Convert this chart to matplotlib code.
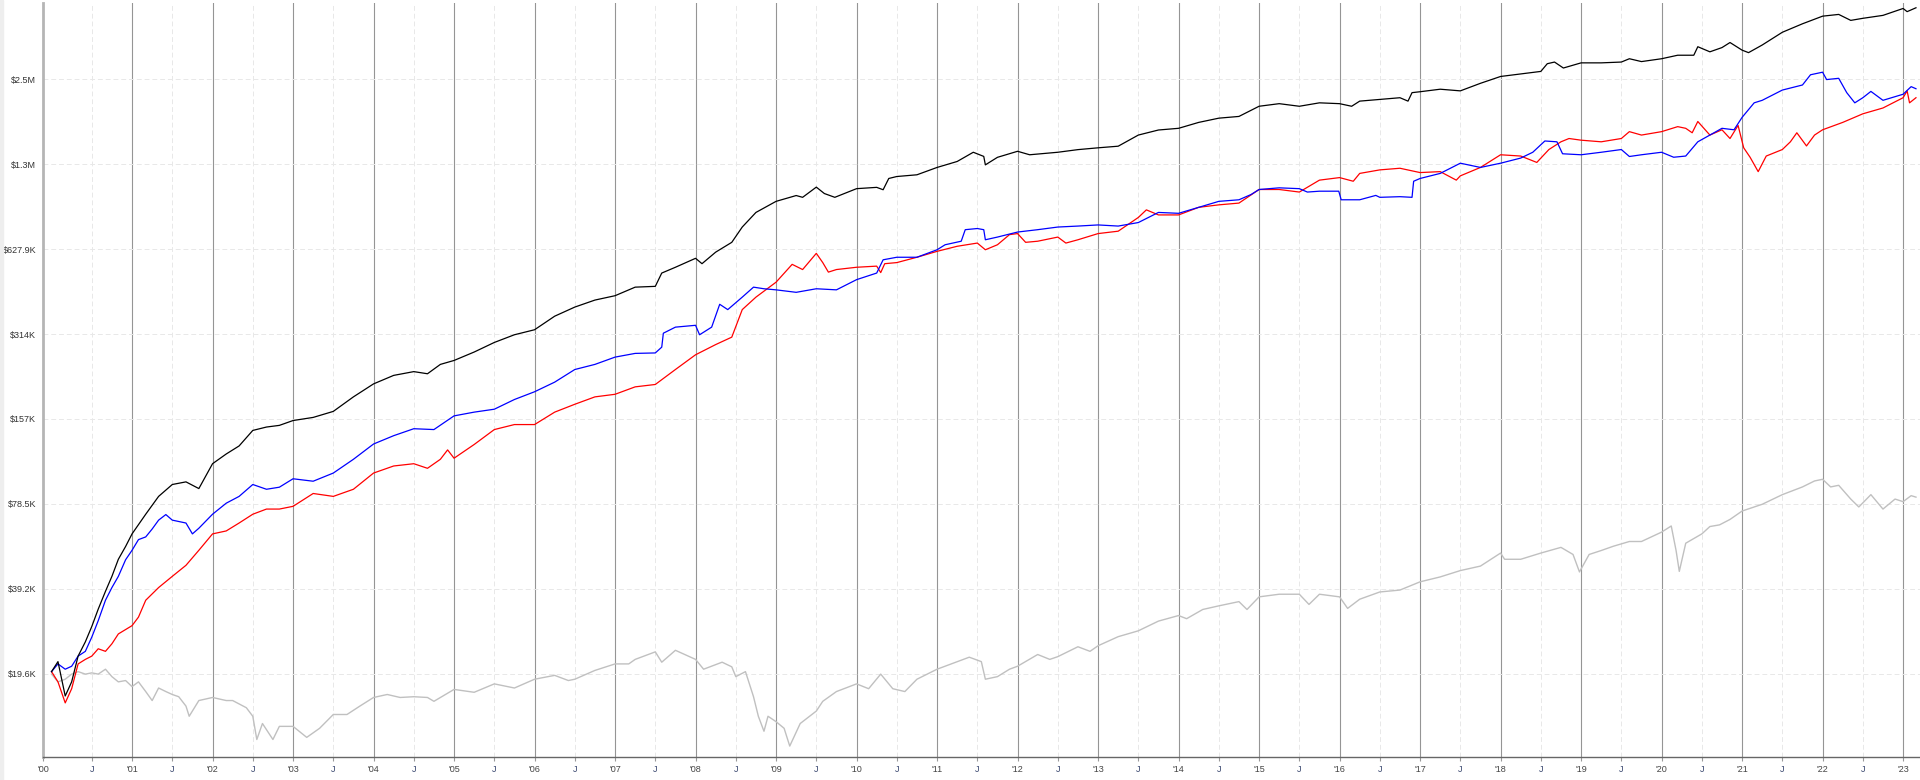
import matplotlib
matplotlib.use("Agg")
import matplotlib.pyplot as plt
from matplotlib.patches import Rectangle

# --- data (values in $K, dates as decimal years) ---
black_t = [2000.0, 2000.08, 2000.17, 2000.25, 2000.33, 2000.42, 2000.5, 2000.58, 2000.67, 2000.75,
           2000.83, 2000.92, 2001.0, 2001.17, 2001.33, 2001.5, 2001.67, 2001.83, 2002.0, 2002.17,
           2002.33, 2002.5, 2002.67, 2002.83, 2003.0, 2003.25, 2003.5, 2003.75, 2004.0, 2004.25,
           2004.5, 2004.67, 2004.83, 2005.0, 2005.25, 2005.5, 2005.75, 2006.0, 2006.25, 2006.5,
           2006.75, 2007.0, 2007.25, 2007.5, 2007.58, 2007.75, 2008.0, 2008.08, 2008.25, 2008.45,
           2008.58, 2008.75, 2009.0, 2009.25, 2009.33, 2009.5, 2009.6, 2009.73, 2010.0, 2010.25,
           2010.33, 2010.4, 2010.5, 2010.75, 2011.0, 2011.25, 2011.45, 2011.58, 2011.6, 2011.75,
           2012.0, 2012.15, 2012.5, 2012.75, 2013.0, 2013.25, 2013.5, 2013.75, 2014.0, 2014.25,
           2014.5, 2014.75, 2015.0, 2015.25, 2015.5, 2015.75, 2016.0, 2016.15, 2016.25, 2016.5,
           2016.75, 2016.85, 2016.9, 2017.0, 2017.25, 2017.5, 2017.75, 2018.0, 2018.25, 2018.5,
           2018.58, 2018.67, 2018.78, 2019.0, 2019.25, 2019.5, 2019.6, 2019.75, 2020.0, 2020.2,
           2020.4, 2020.45, 2020.6, 2020.75, 2020.85, 2021.0, 2021.08, 2021.25, 2021.5, 2021.75,
           2022.0, 2022.2, 2022.35, 2022.5, 2022.75, 2023.0, 2023.05, 2023.16]
black_k = [20.0, 21.7, 16.4, 18.4, 22.7, 25.5, 28.9, 33.3, 38.5, 43.5,
           50.0, 55.5, 61.5, 72.2, 83.5, 92, 94, 89, 109, 118,
           126, 143, 147, 149, 155, 159, 167, 188, 209, 224,
           231, 227, 245, 253, 271, 293, 312, 325, 363, 391,
           414, 429, 460, 463, 516, 541, 582, 557, 612, 663,
           751, 846, 926, 971, 957, 1040, 987, 957, 1027, 1038,
           1018, 1116, 1134, 1150, 1221, 1282, 1382, 1336, 1247, 1326,
           1393, 1354, 1382, 1412, 1433, 1452, 1590, 1657, 1680, 1763,
           1825, 1851, 2011, 2054, 2011, 2068, 2054, 2011, 2097, 2127,
           2156, 2097, 2247, 2264, 2311, 2280, 2425, 2564, 2617, 2672,
           2845, 2884, 2747, 2865, 2865, 2884, 2963, 2895, 2963, 3049,
           3049, 3268, 3135, 3245, 3382, 3178, 3114, 3314, 3677, 3940,
           4193, 4253, 4051, 4120, 4220, 4464, 4350, 4490]

blue_t = [2000.0, 2000.08, 2000.17, 2000.25, 2000.33, 2000.42, 2000.5, 2000.58, 2000.67, 2000.75,
          2000.83, 2000.92, 2001.0, 2001.08, 2001.17, 2001.25, 2001.33, 2001.42, 2001.5, 2001.67,
          2001.75, 2001.83, 2002.0, 2002.17, 2002.33, 2002.5, 2002.67, 2002.83, 2003.0, 2003.25,
          2003.5, 2003.75, 2004.0, 2004.25, 2004.5, 2004.75, 2005.0, 2005.25, 2005.5, 2005.75,
          2006.0, 2006.25, 2006.5, 2006.75, 2007.0, 2007.25, 2007.5, 2007.58, 2007.6, 2007.75,
          2008.0, 2008.05, 2008.2, 2008.3, 2008.4, 2008.58, 2008.72, 2008.85, 2009.0, 2009.25,
          2009.5, 2009.75, 2010.0, 2010.25, 2010.33, 2010.5, 2010.75, 2011.0, 2011.1, 2011.3,
          2011.35, 2011.5, 2011.58, 2011.6, 2011.75, 2012.0, 2012.25, 2012.5, 2012.75, 2013.0,
          2013.25, 2013.5, 2013.75, 2014.0, 2014.25, 2014.5, 2014.75, 2014.9, 2015.0, 2015.25,
          2015.5, 2015.6, 2015.75, 2015.99, 2016.02, 2016.25, 2016.45, 2016.5, 2016.75, 2016.9,
          2016.92, 2017.0, 2017.25, 2017.5, 2017.75, 2018.0, 2018.25, 2018.4, 2018.55, 2018.7,
          2018.77, 2019.0, 2019.25, 2019.5, 2019.6, 2019.75, 2020.0, 2020.15, 2020.3, 2020.45,
          2020.6, 2020.75, 2020.9, 2021.0, 2021.15, 2021.25, 2021.5, 2021.75, 2021.85, 2022.0,
          2022.05, 2022.2, 2022.3, 2022.4, 2022.5, 2022.6, 2022.75, 2023.0, 2023.1, 2023.16]
blue_k = [20.0, 21.3, 20.4, 20.9, 22.7, 23.6, 26.5, 30.3, 35.8, 39.7,
          43.5, 49.8, 53.8, 58.7, 60.0, 64, 68.8, 72.0, 68.8, 67.2,
          61.5, 64.4, 72.2, 79, 83.5, 92, 88.5, 90, 96.4, 94.5,
          101, 113, 128, 137, 145, 144, 161, 166, 170, 184,
          196, 212, 235, 245, 260, 268, 269, 282, 316, 332,
          337, 312, 332, 400, 383, 424, 460, 454, 450, 441,
          454, 450, 489, 516, 575, 587, 587, 624, 650, 669,
          735, 742, 735, 677, 692, 721, 735, 751, 757, 764,
          757, 779, 846, 840, 882, 926, 938, 979, 1020, 1034,
          1027, 999, 1006, 1006, 938, 938, 972, 957, 962, 957,
          1091, 1116, 1163, 1264, 1221, 1264, 1318, 1382, 1515, 1505,
          1365, 1354, 1382, 1413, 1335, 1354, 1382, 1327, 1340, 1505,
          1590, 1680, 1660, 1837, 2068, 2111, 2295, 2392, 2600, 2655,
          2500, 2526, 2247, 2068, 2156, 2270, 2111, 2218, 2360, 2320]

red_t = [2000.0, 2000.08, 2000.17, 2000.25, 2000.33, 2000.42, 2000.5, 2000.58, 2000.67, 2000.75,
         2000.83, 2000.92, 2001.0, 2001.08, 2001.17, 2001.33, 2001.5, 2001.67, 2001.83, 2002.0,
         2002.17, 2002.33, 2002.5, 2002.67, 2002.83, 2003.0, 2003.25, 2003.5, 2003.75, 2004.0,
         2004.25, 2004.5, 2004.67, 2004.83, 2004.92, 2005.0, 2005.25, 2005.5, 2005.75, 2006.0,
         2006.25, 2006.5, 2006.75, 2007.0, 2007.25, 2007.5, 2007.75, 2008.0, 2008.25, 2008.45,
         2008.58, 2008.75, 2009.0, 2009.2, 2009.33, 2009.5, 2009.58, 2009.65, 2009.75, 2010.0,
         2010.25, 2010.3, 2010.35, 2010.5, 2010.75, 2011.0, 2011.25, 2011.5, 2011.6, 2011.75,
         2011.9, 2012.0, 2012.1, 2012.25, 2012.5, 2012.6, 2012.75, 2013.0, 2013.25, 2013.5,
         2013.6, 2013.75, 2014.0, 2014.25, 2014.5, 2014.75, 2015.0, 2015.25, 2015.5, 2015.75,
         2016.0, 2016.17, 2016.25, 2016.5, 2016.75, 2017.0, 2017.25, 2017.45, 2017.5, 2017.75,
         2018.0, 2018.25, 2018.45, 2018.6, 2018.75, 2018.85, 2019.0, 2019.25, 2019.5, 2019.6,
         2019.75, 2020.0, 2020.2, 2020.3, 2020.38, 2020.45, 2020.6, 2020.75, 2020.85, 2020.95,
         2021.02, 2021.1, 2021.2, 2021.3, 2021.5, 2021.6, 2021.68, 2021.8, 2021.9, 2022.0,
         2022.25, 2022.5, 2022.75, 2023.0, 2023.05, 2023.08, 2023.16]
red_k = [20.0, 18.4, 15.5, 17.4, 21.3, 22.1, 22.7, 24.1, 23.6, 25.1,
         27.2, 28.2, 29.1, 31.2, 35.8, 39.7, 43.5, 47.6, 53.8, 61.5,
         63, 67.2, 72.2, 75.3, 75.3, 77, 85.5, 83.5, 88.5, 101,
         107, 109, 105, 113, 122, 114, 127.5, 144, 150, 150,
         166, 177, 188, 192, 204, 208, 235, 265, 288, 306,
         383, 424, 479, 554, 531, 606, 562, 520, 531, 541,
         546, 518, 557, 562, 587, 616, 642, 659, 624, 650,
         706, 712, 663, 669, 692, 659, 677, 712, 726, 812,
         864, 829, 829, 882, 900, 913, 1020, 1020, 999, 1101,
         1124, 1091, 1163, 1197, 1213, 1171, 1180, 1101, 1140, 1221,
         1354, 1340, 1272, 1413, 1505, 1546, 1525, 1505, 1546, 1635,
         1590, 1635, 1703, 1680, 1620, 1776, 1590, 1660, 1546, 1720,
         1433, 1326, 1180, 1340, 1413, 1505, 1620, 1455, 1590, 1660,
         1763, 1891, 1983, 2156, 2280, 2068, 2156]

gray_t = [2000.0, 2000.08, 2000.17, 2000.25, 2000.33, 2000.42, 2000.5, 2000.58, 2000.67, 2000.75,
          2000.83, 2000.92, 2001.0, 2001.08, 2001.17, 2001.25, 2001.33, 2001.42, 2001.5, 2001.58,
          2001.67, 2001.71, 2001.83, 2002.0, 2002.17, 2002.25, 2002.42, 2002.5, 2002.55, 2002.62,
          2002.75, 2002.83, 2003.0, 2003.17, 2003.33, 2003.5, 2003.67, 2003.83, 2004.0, 2004.17,
          2004.33, 2004.5, 2004.67, 2004.75, 2005.0, 2005.25, 2005.5, 2005.75, 2006.0, 2006.25,
          2006.42, 2006.5, 2006.75, 2007.0, 2007.17, 2007.25, 2007.5, 2007.58, 2007.75, 2008.0,
          2008.1, 2008.33, 2008.45, 2008.5, 2008.62, 2008.72, 2008.78, 2008.85, 2008.9, 2009.0,
          2009.1, 2009.17, 2009.3, 2009.5, 2009.58, 2009.75, 2010.0, 2010.15, 2010.3, 2010.45,
          2010.6, 2010.75, 2011.0, 2011.25, 2011.4, 2011.55, 2011.6, 2011.75, 2011.9, 2012.0,
          2012.25, 2012.4, 2012.5, 2012.75, 2012.9, 2013.0, 2013.25, 2013.5, 2013.75, 2014.0,
          2014.1, 2014.3, 2014.5, 2014.75, 2014.85, 2015.0, 2015.25, 2015.5, 2015.62, 2015.75,
          2016.0, 2016.1, 2016.25, 2016.5, 2016.75, 2017.0, 2017.25, 2017.5, 2017.75, 2018.0,
          2018.05, 2018.25, 2018.5, 2018.75, 2018.9, 2018.98, 2019.1, 2019.25, 2019.4, 2019.6,
          2019.75, 2020.0, 2020.12, 2020.18, 2020.22, 2020.3, 2020.5, 2020.6, 2020.72, 2020.85,
          2021.0, 2021.25, 2021.5, 2021.75, 2021.9, 2022.0, 2022.1, 2022.2, 2022.35, 2022.45,
          2022.6, 2022.75, 2022.9, 2023.0, 2023.1, 2023.16]
gray_k = [19.6, 18.4, 18.8, 19.6, 20.0, 19.6, 19.8, 19.6, 20.4, 19.2,
          18.4, 18.6, 17.7, 18.4, 17.0, 15.8, 17.5, 17.0, 16.6, 16.3,
          15.1, 13.9, 15.8, 16.2, 15.8, 15.8, 14.9, 13.9, 11.5, 13.1,
          11.5, 12.8, 12.8, 11.7, 12.6, 14.1, 14.1, 15.1, 16.2, 16.6,
          16.2, 16.3, 16.2, 15.7, 17.3, 16.9, 18.1, 17.5, 18.8, 19.4,
          18.6, 18.8, 20.2, 21.3, 21.3, 22.1, 23.5, 21.6, 23.8, 22.1,
          20.4, 21.6, 20.8, 19.2, 20.0, 16.3, 13.9, 12.3, 13.9, 13.3,
          12.6, 10.9, 13.1, 14.5, 15.7, 17.0, 18.1, 17.4, 19.6, 17.4,
          17.0, 18.8, 20.4, 21.7, 22.5, 21.7, 18.8, 19.2, 20.4, 20.9,
          23.0, 22.1, 22.6, 24.5, 23.6, 24.7, 26.6, 27.9, 30.2, 31.6,
          30.8, 33.2, 34.2, 35.4, 33.2, 36.8, 37.6, 37.6, 34.6, 37.6,
          36.8, 33.5, 36.1, 38.3, 38.9, 41.6, 43.3, 45.6, 47.3, 52.6,
          50.0, 50.0, 52.6, 55.1, 52.0, 45.1, 52.0, 53.7, 55.6, 57.8,
          57.8, 62.4, 65.6, 53.7, 45.3, 57.0, 61.5, 65.3, 66.2, 69.2,
          74.1, 78.3, 84.7, 90.2, 94.7, 96.0, 90.2, 91.4, 81.7, 76.6,
          84.7, 75.3, 81.7, 80.0, 84.0, 83.0]

y_ticks = [19620 * 2 ** k for k in range(8)]
y_labels = ["$19.6K", "$39.2K", "$78.5K", "$157K", "$314K", "$627.9K", "$1.3M", "$2.5M"]
years = list(range(2001, 2024))
x_start, x_end = 1999.894, 2023.21

plt.rcParams["font.family"] = ["Liberation Sans", "DejaVu Sans"]

fig = plt.figure(figsize=(19.2, 7.8), dpi=100)
fig.patches.append(Rectangle((0, 0), 3 / 1920, 1, transform=fig.transFigure,
                             color="#eeeeee", zorder=0))
ax = fig.add_axes([43 / 1920, 23 / 780, (1920 - 43) / 1920, (757 - 3) / 780])

# grid: solid year lines, dashed July lines, dashed price levels
for y in years:
    ax.axvline(y, color="#959595", lw=0.8, zorder=1)
for y in range(2000, 2023):
    ax.axvline(y + 0.5, color="#e8e8e8", lw=0.7, ls=(0, (5, 3)), zorder=1)
for v in y_ticks:
    ax.axhline(v, color="#e8e8e8", lw=0.7, ls=(0, (5, 3)), zorder=1)

to_usd = lambda ks: [k * 1000 for k in ks]
ax.plot(gray_t, to_usd(gray_k), color="#c0c0c0", lw=1.0, zorder=2)
ax.plot(red_t, to_usd(red_k), color="#ff0000", lw=0.9, zorder=3)
ax.plot(blue_t, to_usd(blue_k), color="#0000ff", lw=0.9, zorder=4)
ax.plot(black_t, to_usd(black_k), color="#000000", lw=0.9, zorder=5)

ax.set_yscale("log", base=2)
ax.set_ylim(9970, 4668000)
ax.set_xlim(x_start, x_end)
ax.set_yticks(y_ticks)
ax.set_yticklabels(y_labels)
ax.yaxis.set_minor_locator(matplotlib.ticker.NullLocator())
ax.tick_params(axis="y", length=0, pad=5, labelsize=6.5, labelcolor="#333333")

xt = [x_start] + [y + 0.5 for y in range(2000, 2023)] + years
xl = ["'00"] + ["J"] * 23 + ["'%02d" % (y % 100) for y in years]
ax.set_xticks(xt)
ax.set_xticklabels(xl)
ax.tick_params(axis="x", length=3, color="#999999", pad=3, labelsize=6.5, labelcolor="#444444")
for lab in ax.get_xticklabels():
    if lab.get_text() == "J":
        lab.set_color("#3a4870")

for s in ("top", "right"):
    ax.spines[s].set_visible(False)
ax.spines["left"].set_color("#b5b5b5")
ax.spines["left"].set_linewidth(2)
ax.spines["bottom"].set_color("#666666")
ax.spines["bottom"].set_linewidth(1)

fig.savefig("out.png", dpi=100)
